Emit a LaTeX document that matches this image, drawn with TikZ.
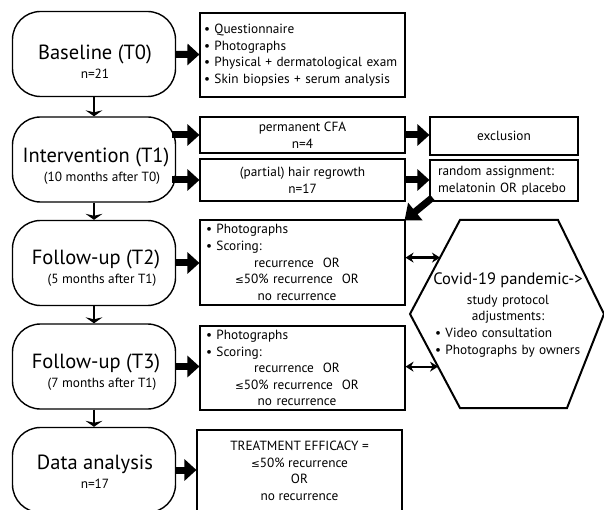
\documentclass[tikz,border=0pt]{standalone}
\usepackage{fontspec}
\setmainfont{PT Sans}
\newfontfamily\dejavu{DejaVu Sans}
\usetikzlibrary{arrows.meta,calc}

\newcommand{\lesign}{{\dejavu\fontsize{10.5}{12}\selectfont ≤}}
\newcommand{\subline}[1]{{\fontsize{13.3}{14}\selectfont #1}}
\newcommand{\midline}[1]{\makebox[182pt]{#1}}
\newcommand{\hexline}[1]{\makebox[146pt]{#1}}

\tikzset{
  stage/.style={draw, line width=1.4pt, rounded corners=28pt,
    minimum width=163pt, minimum height=85pt},
  stagetext/.style={align=center, inner sep=0pt,
    font=\fontsize{20.5}{19}\selectfont},
  infobox/.style={draw, line width=1.1pt, minimum width=205pt,
    font=\fontsize{13.3}{16.6}\selectfont},
  sidebox/.style={draw, line width=1.1pt, minimum width=148pt,
    font=\fontsize{13.3}{16.6}\selectfont},
  bigarrow/.style={line width=7pt, -{Triangle[length=12pt,width=21pt]}},
  downarrow/.style={line width=2.4pt, -{Stealth[length=6pt,width=17pt,inset=2pt]}},
  twoway/.style={line width=2.2pt,
    {Stealth[length=8pt,width=10pt]}-{Stealth[length=8pt,width=10pt]}},
}

\begin{document}
\begin{tikzpicture}[x=1pt,y=-1pt]
  \clip (0,0) rectangle (604,510);

  % stages
  \node[stage] (base) at (94,54) {};
  \node[stagetext] (basetxt) at (95,62) {Baseline (T0)\\\subline{n=21}};
  \node[stage] (interv) at (94,159.5) {};
  \node[stagetext] (intervtxt) at (96,166) {Intervention (T1)\\\subline{\hspace*{12pt}(10 months after T0)}};
  \node[stage] (fuA) at (94,263) {};
  \node[stagetext] (fuAtxt) at (96,268) {Follow-up (T2)\\\subline{\hspace*{12pt}(5 months after T1)}};
  \node[stage] (fuB) at (94,366.5) {};
  \node[stagetext] (fuBtxt) at (96,372) {Follow-up (T3)\\\subline{\hspace*{12pt}(7 months after T1)}};
  \node[stage] (data) at (94,470) {};
  \node[stagetext] (datatxt) at (95,472) {Data analysis\\\subline{n=17}};

  \draw[downarrow] (base) -- (interv);
  \draw[downarrow] (interv) -- (fuA);
  \draw[downarrow] (fuA) -- (fuB);
  \draw[downarrow] (fuB) -- (data);

  % boxes on the right
  \node[infobox, minimum height=84pt, text width=197pt, align=left] (exam) at (302.5,55)
    {• Questionnaire\\• Photographs\\• Physical + dermatological exam\\• Skin biopsies + serum analysis};
  \node[infobox, minimum height=36pt, align=center] (cfa) at (302.5,135)
    {permanent CFA\\n=4};
  \node[infobox, minimum height=42pt, align=center] (regrow) at (302.5,180)
    {(partial) hair regrowth\\n=17};
  \node[sidebox, minimum height=38pt] (excl) at (504,136) {exclusion};
  \node[sidebox, minimum height=41pt, text width=132pt, align=left] (rand) at (504,180.5)
    {random assignment:\\melatonin OR placebo};
  \node[infobox, minimum height=85pt, text width=193pt, align=left] (scoreA) at (302.5,262.5)
    {• Photographs\\• Scoring:\\\midline{recurrence\ \ OR}\\\midline{\lesign50\% recurrence\ \ OR}\\\midline{no recurrence}};
  \node[infobox, minimum height=84pt, text width=193pt, align=left] (scoreB) at (302.5,368)
    {• Photographs\\• Scoring:\\\midline{recurrence\ \ OR}\\\midline{\lesign50\% recurrence\ \ OR}\\\midline{no recurrence}};
  \node[infobox, minimum height=82pt, align=center] (effic) at (299.5,471)
    {TREATMENT EFFICACY =\\\lesign50\% recurrence\\OR\\no recurrence};

  \draw[bigarrow] (base) -- (exam);
  \draw[bigarrow] ([xshift=-4pt]interv.east |- cfa) -- (cfa);
  \draw[bigarrow] ([xshift=-4pt]interv.east |- regrow) -- (regrow);
  \draw[bigarrow] (cfa) -- (excl.west |- cfa);
  \draw[bigarrow] (regrow) -- (rand.west |- regrow);
  \draw[bigarrow, -{Triangle[length=14pt,width=22pt]}]
    ([xshift=3pt,yshift=4pt]rand.south west) -- ([xshift=-1pt,yshift=-1pt]scoreA.north east);
  \draw[bigarrow] (fuA) -- (scoreA.west |- fuA);
  \draw[bigarrow] (fuB) -- (scoreB.west |- fuB);
  \draw[bigarrow] (data) -- (effic.west |- data);

  % covid hexagon
  \coordinate (hexNW) at (460,220);
  \coordinate (hexNE) at (558,220);
  \coordinate (hexE) at (604,314);
  \coordinate (hexSE) at (567,408);
  \coordinate (hexSW) at (460,408);
  \coordinate (hexW) at (410,314);
  \draw[line width=2pt, line join=miter] (hexNW) -- (hexNE) -- (hexE) -- (hexSE) -- (hexSW) -- (hexW) -- cycle;
  \node[align=left, text width=146pt, inner sep=0pt, font=\fontsize{13.3}{16.6}\selectfont] (covid) at (508,315)
    {\hexline{\fontsize{16.5}{16.6}\selectfont Covid-19 pandemic->}\\[3pt]
     \hexline{study protocol}\\\hexline{adjustments:}\\• Video consultation\\• Photographs by owners};

  \coordinate (hitA) at ($(hexW)!0.6!(hexNW)$);
  \coordinate (hitB) at ($(hexW)!0.56!(hexSW)$);
  \draw[twoway] (scoreA.east |- hitA) -- (hitA);
  \draw[twoway] (scoreB.east |- hitB) -- (hitB);
\end{tikzpicture}
\end{document}
